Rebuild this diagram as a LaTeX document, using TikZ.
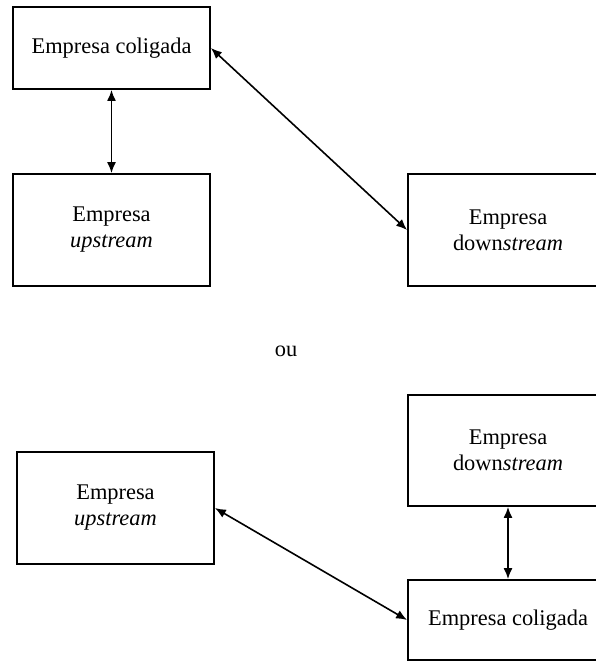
\documentclass[tikz,border=0pt]{standalone}
\usepackage{fontspec}
\setmainfont{Liberation Serif}
\usetikzlibrary{arrows.meta}

\begin{document}
\begin{tikzpicture}[x=1pt,y=-1pt,
    firma/.style={draw, line width=1.8pt, minimum width=197pt, align=center,
      font=\fontsize{22.4}{26}\selectfont},
    liga/.style={{Latex[length=11pt,width=9pt]}-{Latex[length=11pt,width=9pt]}, line width=1.6pt}]
        \clip (0,0) rectangle (596,662);
        % primeiro caso
        \node[firma, minimum height=82pt] (col1) at (111.5,48) {Empresa coligada};
        \node[firma, minimum height=112pt] (up1) at (111.5,230) {Empresa\\\textit{upstream}};
        \node[firma, minimum height=112pt, minimum width=200pt] (down1) at (508,230) {Empresa\\down\textit{stream}};
        \draw[liga] (col1.south) -- (up1.north);
        \draw[liga] (col1.east) -- (down1.west);
        \node[font=\fontsize{22.4}{26}\selectfont] (ou) at (286,351) {ou};
        % segundo caso
        \node[firma, minimum height=112pt] (up2) at (115.5,508) {Empresa\\\textit{upstream}};
        \node[firma, minimum height=111pt, minimum width=200pt] (down2) at (508,450.5) {Empresa\\down\textit{stream}};
        \node[firma, minimum height=80pt, minimum width=200pt] (col2) at (508,620) {Empresa coligada};
        \draw[liga] (down2.south) -- (col2.north);
        \draw[liga] (up2.east) -- (col2.west);
\end{tikzpicture}
\end{document}
